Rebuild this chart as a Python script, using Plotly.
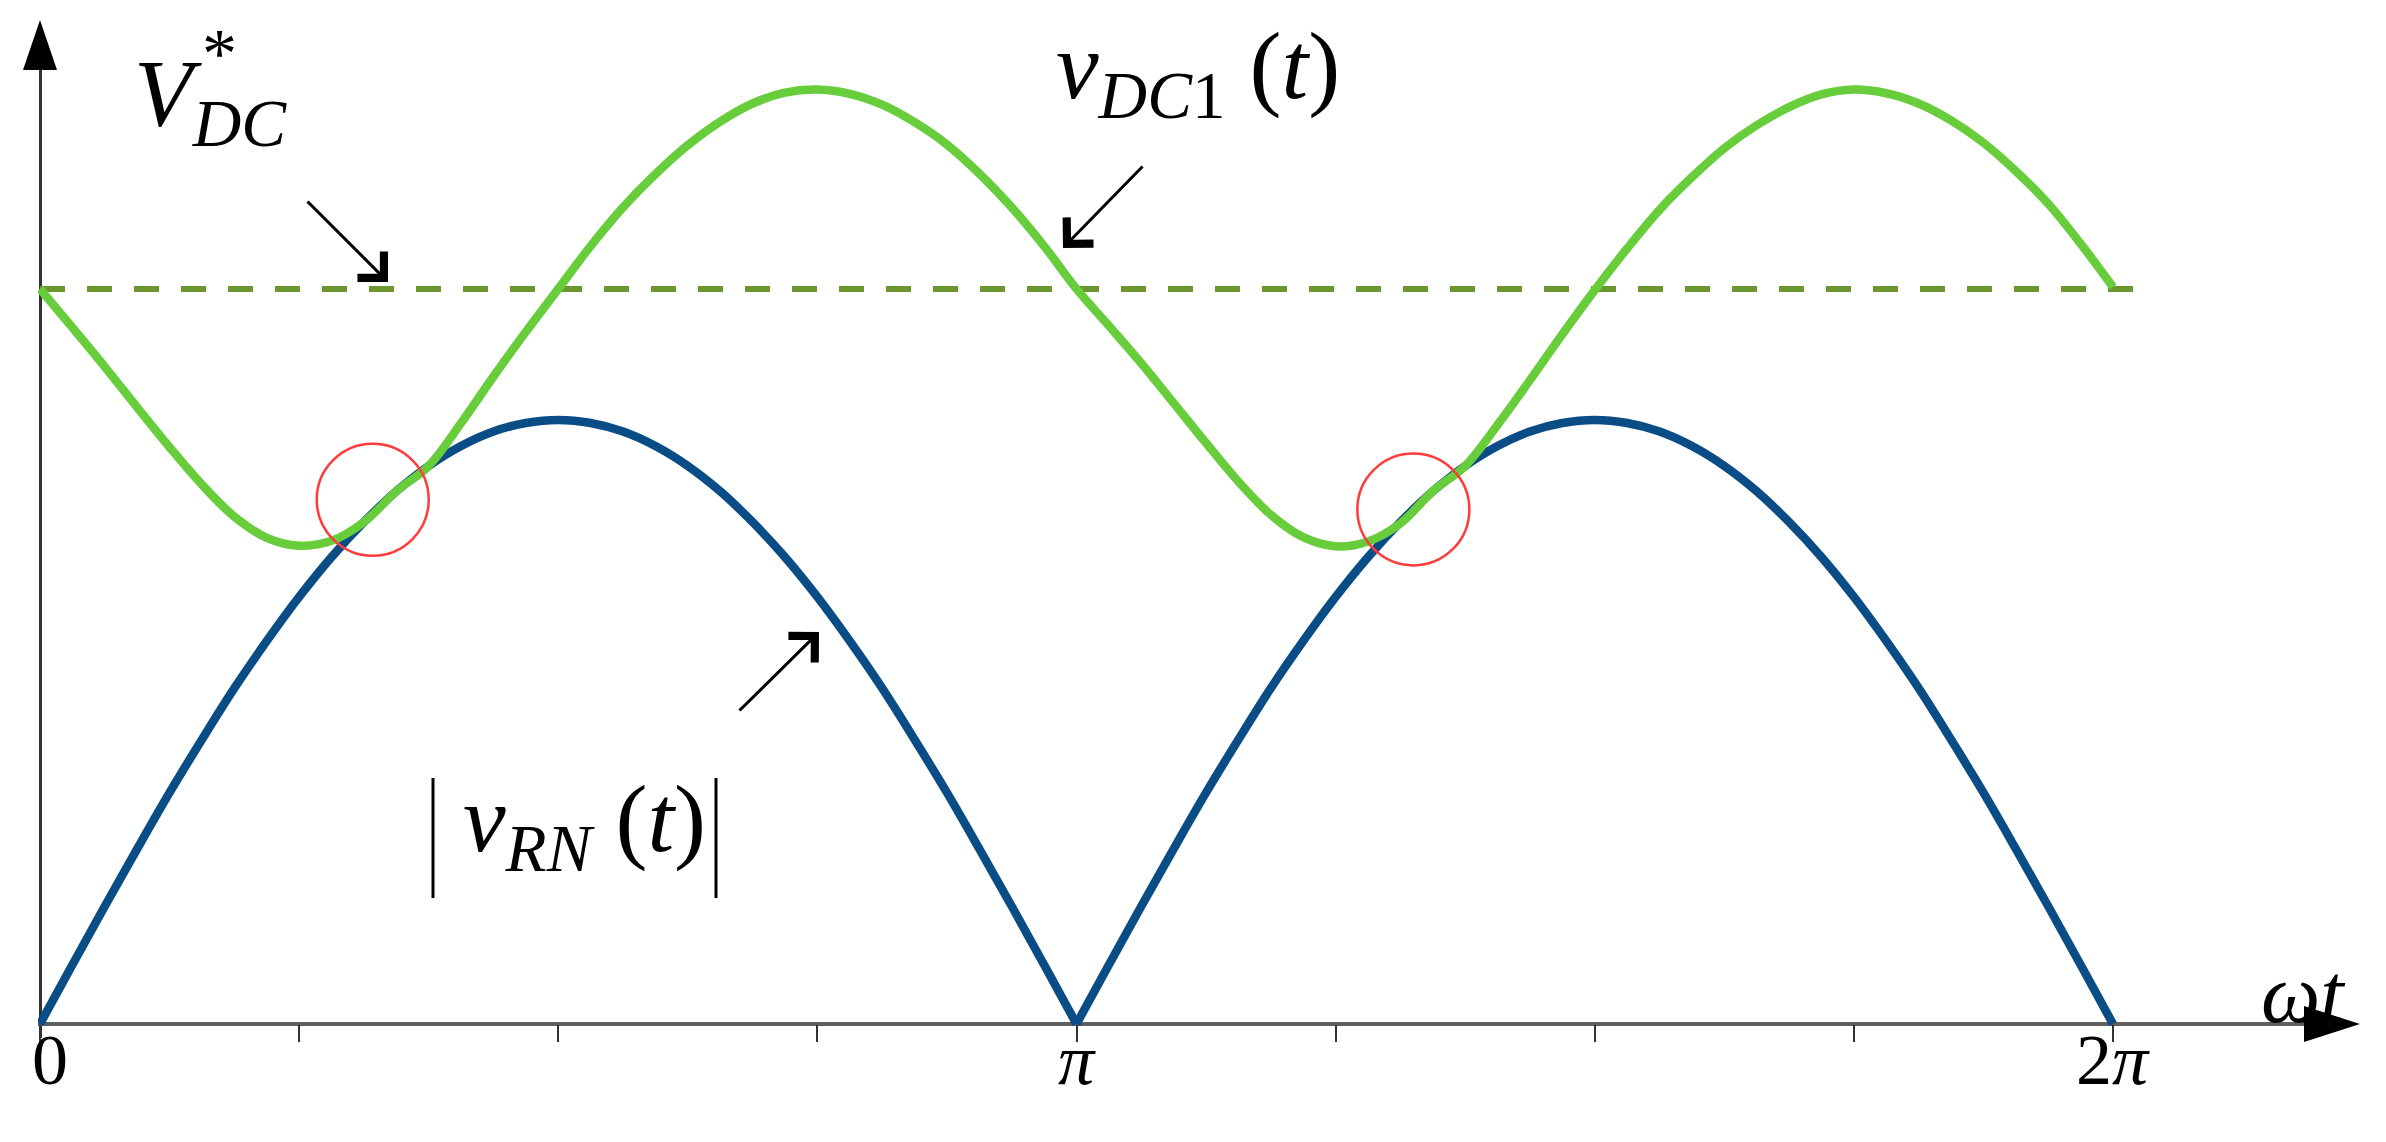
import numpy as np
import plotly.graph_objects as go

W, H = 2386, 1142

# sample grid in units of pi (step pi/32)
theta_1 = [k / 32 for k in range(33)]
theta_2 = [1 + k / 32 for k in range(33)]

# |v_RN(t)| (peak normalised to 1)
v_rn_1 = [0.0, 0.098, 0.195, 0.290, 0.383, 0.471, 0.556, 0.634, 0.707,
          0.773, 0.831, 0.882, 0.924, 0.957, 0.981, 0.995, 1.0,
          0.995, 0.981, 0.957, 0.924, 0.882, 0.831, 0.773, 0.707,
          0.634, 0.556, 0.471, 0.383, 0.290, 0.195, 0.098, 0.0]
v_rn_2 = [0.0, 0.098, 0.195, 0.290, 0.383, 0.471, 0.556, 0.634, 0.707,
          0.773, 0.831, 0.882, 0.924, 0.957, 0.981, 0.995, 1.0,
          0.995, 0.981, 0.957, 0.924, 0.882, 0.831, 0.773, 0.707,
          0.634, 0.556, 0.471, 0.383, 0.290, 0.195, 0.098, 0.0]

# v_DC1(t)
theta_dc = theta_1 + theta_2[1:]
v_dc1 = [1.217, 1.153, 1.088, 1.021, 0.955, 0.893, 0.840, 0.805, 0.792,
         0.800, 0.831, 0.882, 0.924, 0.995, 1.072, 1.146, 1.217,
         1.288, 1.352, 1.407, 1.455, 1.494, 1.524, 1.542, 1.547,
         1.540, 1.522, 1.493, 1.456, 1.408, 1.352, 1.288, 1.217,
         1.156, 1.094, 1.028, 0.962, 0.898, 0.843, 0.806, 0.791,
         0.799, 0.829, 0.882, 0.924, 0.992, 1.066, 1.142, 1.215,
         1.284, 1.348, 1.402, 1.450, 1.488, 1.518, 1.539, 1.547,
         1.541, 1.524, 1.496, 1.459, 1.412, 1.358, 1.292, 1.220]

# V*_DC reference level
v_dc_ref = 1.217
v_dc_ref_span = [0.0, 2.032]

# points where v_DC1 touches |v_RN| (red circles)
touch_x = [0.321, 1.325]
touch_y = [0.868, 0.852]

# x ticks every pi/4, labelled at 0, pi, 2pi
tick_pos = [0, 0.25, 0.5, 0.75, 1.0, 1.25, 1.5, 1.75, 2.0]
tick_labels = {0.0: '0', 1.0: '<i>π</i>', 2.0: '2<i>π</i>'}

# pixel mapping helpers
X0, PX_PI = 32, 1036.5
Y0, PX_UNIT = 1016, 604


def dx(px):
    return (px - X0) / PX_PI * np.pi


def dy(py):
    return (Y0 - py) / PX_UNIT


def pxp(px):
    return px / W


def pyp(py):
    return 1 - py / H


pi_arr = lambda a: np.array(a) * np.pi

BLUE = '#0A4C86'
GREEN = '#67CD3A'
DASH = '#6B9630'
FONT = 'Liberation Serif'

fig = go.Figure()

fig.add_trace(go.Scatter(
    x=pi_arr(v_dc_ref_span), y=[v_dc_ref, v_dc_ref], mode='lines',
    line=dict(color=DASH, width=6, dash='25px,22px'),
))
for th, v in [(theta_1, v_rn_1), (theta_2, v_rn_2)]:
    fig.add_trace(go.Scatter(
        x=pi_arr(th), y=v, mode='lines',
        line=dict(color=BLUE, width=8.5, shape='spline', smoothing=1.0,
                  simplify=False),
    ))
fig.add_trace(go.Scatter(
    x=pi_arr(theta_dc), y=v_dc1, mode='lines',
    line=dict(color=GREEN, width=8.5, shape='spline', smoothing=1.0,
              simplify=False),
))
fig.add_trace(go.Scatter(
    x=pi_arr(touch_x), y=touch_y, mode='markers',
    marker=dict(symbol='circle-open', size=112, color='#FF3B3B',
                line=dict(width=2.5)),
))

# axis arrowheads and the bars of |v_RN(t)|
shapes = [
    dict(type='path', xref='paper', yref='paper',
         path=f"M {pxp(X0)} {pyp(12)} L {pxp(X0 - 17)} {pyp(62)} L {pxp(X0 + 17)} {pyp(62)} Z",
         fillcolor='black', line=dict(width=0)),
    dict(type='path', xref='paper', yref='paper',
         path=f"M {pxp(2352)} {pyp(Y0)} L {pxp(2296)} {pyp(Y0 - 18)} L {pxp(2296)} {pyp(Y0 + 18)} Z",
         fillcolor='black', line=dict(width=0)),
    dict(type='line', xref='paper', yref='paper',
         x0=pxp(425), x1=pxp(425), y0=pyp(770), y1=pyp(890),
         line=dict(color='black', width=3)),
    dict(type='line', xref='paper', yref='paper',
         x0=pxp(708), x1=pxp(708), y0=pyp(770), y1=pyp(890),
         line=dict(color='black', width=3)),
]

annotations = []


def label(text, px, py, size, xanchor='left'):
    annotations.append(dict(
        text=text, x=pxp(px), y=pyp(py), xref='paper', yref='paper',
        xanchor=xanchor, yanchor='middle', showarrow=False,
        font=dict(family=FONT, size=size, color='black'),
    ))


label('<i>V</i><sub><i>DC</i></sub>', 124, 93, 96)
label('*', 211, 45, 70, xanchor='center')
label('<i>v</i><sub><i>DC</i>1</sub> (<i>t</i>)', 1046, 64, 96)
label('<i>v</i><sub><i>RN</i></sub> (<i>t</i>)', 700, 817, 96, xanchor='right')
label('<i>ωt</i>', 2251, 985, 84)

# tick labels under the axis
for pos in tick_pos:
    if pos in tick_labels:
        annotations.append(dict(
            text=tick_labels[pos], x=pos * np.pi + (dx(X0 + 10) if pos == 0 else 0),
            y=pyp(Y0 + 36), xref='x', yref='paper',
            xanchor='center', yanchor='middle', showarrow=False,
            font=dict(family=FONT, size=72, color='black'),
        ))


def pointer(tip, tail):
    annotations.append(dict(
        x=dx(tip[0]), y=dy(tip[1]), xref='x', yref='y',
        ax=tail[0] - tip[0], ay=tail[1] - tip[1],
        text='', showarrow=True, arrowhead=4, arrowsize=2.4,
        arrowwidth=3, arrowcolor='black',
    ))


pointer((380, 274), (298, 192))
pointer((1055, 240), (1136, 157))
pointer((811, 624), (730, 704))

fig.update_layout(
    width=W, height=H,
    margin=dict(l=0, r=0, t=0, b=0, autoexpand=False),
    plot_bgcolor='white', paper_bgcolor='white',
    showlegend=False,
    shapes=shapes,
    annotations=annotations,
    xaxis=dict(
        range=[dx(X0 - 2), dx(2298)], domain=[pxp(X0 - 2), pxp(2298)],
        anchor='free', position=pyp(Y0),
        tickvals=pi_arr(tick_pos), showticklabels=False,
        ticks='outside', ticklen=17, tickwidth=2, tickcolor='#333',
        showgrid=False, showline=False,
        zeroline=True, zerolinecolor='#333', zerolinewidth=3,
    ),
    yaxis=dict(
        range=[dy(Y0 + 14), dy(60)], domain=[pyp(Y0 + 14), pyp(60)],
        showticklabels=False, ticks='', showgrid=False, showline=False,
        zeroline=True, zerolinecolor='#5E5E5E', zerolinewidth=4,
    ),
)

fig.write_html("out.html")
